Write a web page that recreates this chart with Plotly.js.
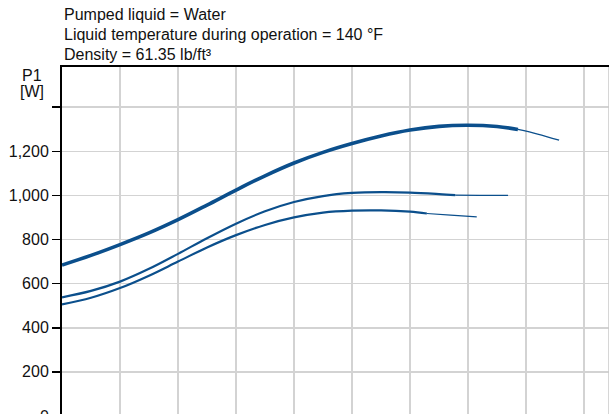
<!DOCTYPE html>
<html>
<head>
<meta charset="utf-8">
<script src="https://cdn.plot.ly/plotly-3.0.1.min.js"></script>
<style>
html,body{margin:0;padding:0;overflow:hidden;background:#fff;}
#chart{width:609px;height:440px;}
</style>
</head>
<body>
<div id="chart"></div>
<script>
// x in grid units (one vertical gridline per unit)
const topX = [0, 0.5, 1, 1.5, 2, 2.5, 3, 3.5, 4, 4.5, 5, 5.5, 6, 6.5, 7, 7.5, 7.86];
const topY = [684, 728, 777, 830, 890, 956, 1024, 1089, 1147, 1195, 1235, 1269, 1296, 1313, 1318, 1312, 1299];
const topTailX = [7.86, 8.2, 8.57];
const topTailY = [1299, 1278, 1250];

const midX = [0, 0.5, 1, 1.5, 2, 2.5, 3, 3.5, 4, 4.5, 5, 5.5, 6, 6.5, 6.78];
const midY = [538, 567, 609, 667, 735, 806, 872, 928, 970, 997, 1011, 1015, 1013, 1006, 1001];
const midTailX = [6.78, 7.2, 7.69];
const midTailY = [1001, 1000.5, 1000];

const lowX = [0, 0.5, 1, 1.5, 2, 2.5, 3, 3.5, 4, 4.5, 5, 5.5, 6, 6.29];
const lowY = [506, 536, 580, 636, 700, 764, 820, 866, 900, 922, 931, 932, 926, 918];
const lowTailX = [6.29, 6.7, 7.15];
const lowTailY = [918, 911, 903];

const yTickVals = [0, 200, 400, 600, 800, 1000, 1200, 1400];
const yTickText = ['0', '200', '400', '600', '800', '1,000', '1,200', ''];

const titleLines = ['Pumped liquid = Water', 'Liquid temperature during operation = 140 °F', 'Density = 61.35 lb/ft³'];
const yTitleLines = ['P1', '[W]'];

const C = '#0b4f8c';
function tr(x, y, w) {
  return {x: x, y: y, type: 'scatter', mode: 'lines', line: {color: C, width: w, shape: 'spline', smoothing: 1}, hoverinfo: 'skip', showlegend: false};
}
const data = [
  tr(topX, topY, 3.6), tr(topTailX, topTailY, 1.3),
  tr(midX, midY, 2.2), tr(midTailX, midTailY, 1.2),
  tr(lowX, lowY, 2.2), tr(lowTailX, lowTailY, 1.2)
];

const F = 'Liberation Sans, Arial, sans-serif';
const annotations = titleLines.map((t, i) => ({
  text: t, xref: 'paper', yref: 'paper', x: 0, y: 1, xanchor: 'left', yanchor: 'middle',
  yshift: 67 - (14 + 20 * i), showarrow: false, font: {family: F, size: 16, color: '#111'}
}));
yTitleLines.forEach((t, i) => annotations.push({
  text: t, xref: 'paper', yref: 'paper', x: 0, y: 1, xanchor: 'center', yanchor: 'middle',
  xshift: -30, yshift: 67 - (75 + 16 * i), showarrow: false, font: {family: F, size: 16, color: '#111'}
}));

const layout = {
  width: 609, height: 440,
  margin: {l: 62, r: 0, t: 67, b: 24},
  paper_bgcolor: '#fff', plot_bgcolor: '#fff',
  font: {family: F, size: 16, color: '#111'},
  xaxis: {range: [0, 9.43], dtick: 1, tick0: 0, showticklabels: false, ticks: '',
    showgrid: true, gridcolor: '#d3d3d3', gridwidth: 1.5, zeroline: false,
    showline: true, mirror: true, linecolor: '#000', linewidth: 2},
  yaxis: {range: [0, 1582], tickvals: yTickVals, ticktext: yTickText, ticks: 'outside', ticklen: 8,
    tickwidth: 1.5, tickcolor: '#000', showgrid: true, gridcolor: '#d3d3d3', gridwidth: 1.5,
    zeroline: false, showline: true, linecolor: '#000', linewidth: 2,
    tickfont: {family: F, size: 16, color: '#111'}},
  shapes: [{type: 'line', xref: 'paper', yref: 'paper', x0: 1, x1: 1, y0: 0, y1: 1, line: {color: '#c8c8c8', width: 1.5}}],
  annotations: annotations
};
Plotly.newPlot('chart', data, layout, {staticPlot: true, displayModeBar: false});
</script>
</body>
</html>
